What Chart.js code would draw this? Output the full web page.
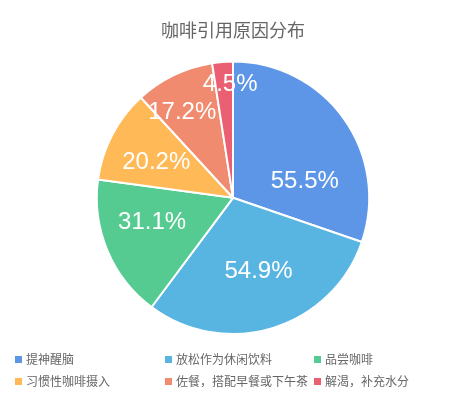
<!DOCTYPE html>
<html>
<head>
<meta charset="utf-8">
<script src="https://cdn.jsdelivr.net/npm/chart.js@4"></script>
<style>
  html, body { margin: 0; padding: 0; background: #fff; }
  #wrap { position: relative; width: 458px; height: 396px; }
  #legend { position: absolute; left: 0; top: 349px; width: 458px; font-family: "Noto Sans CJK SC", sans-serif; font-size: 12px; color: #666; }
  .item { position: absolute; height: 20px; line-height: 20px; white-space: nowrap; }
  .box { position: absolute; left: 0; top: 7px; width: 7px; height: 7px; }
  .txt { position: absolute; left: 11px; top: 0; }
</style>
</head>
<body>
<div id="wrap">
  <canvas id="reasonChart" width="458" height="396"></canvas>
  <div id="legend"></div>
</div>
<script>
const categories = ["提神醒脑", "放松作为休闲饮料", "品尝咖啡", "习惯性咖啡摄入", "佐餐，搭配早餐或下午茶", "解渴，补充水分"];
const percentages = [55.5, 54.9, 31.1, 20.2, 17.2, 4.5];
const sliceColors = ["#5d96e6", "#58b5e2", "#55ca91", "#ffb957", "#f08b70", "#ea5f72"];

// label placement inside each slice: fraction of radius, angle nudge in degrees
const labelRadius = [0.54, 0.57, 0.62, 0.62, 0.73, 0.83];
const labelNudge = [23, -2, 6, -3, -5, 3];

const pieLabels = {
    id: 'pieLabels',
    afterDatasetsDraw(chart) {
        const ctx = chart.ctx;
        const meta = chart.getDatasetMeta(0);
        ctx.save();
        ctx.fillStyle = '#fff';
        ctx.font = '24px "Liberation Sans", Arial, sans-serif';
        ctx.textAlign = 'center';
        ctx.textBaseline = 'middle';
        meta.data.forEach((arc, i) => {
            const p = arc.getProps(['x', 'y', 'startAngle', 'endAngle', 'outerRadius'], true);
            const mid = (p.startAngle + p.endAngle) / 2 + labelNudge[i] * Math.PI / 180;
            const r = p.outerRadius * labelRadius[i];
            ctx.fillText(percentages[i].toFixed(1) + '%', p.x + Math.cos(mid) * r, p.y + Math.sin(mid) * r);
        });
        ctx.restore();
    }
};

const chart = new Chart(document.getElementById('reasonChart').getContext('2d'), {
    type: 'pie',
    data: {
        labels: categories,
        datasets: [{
            data: percentages,
            backgroundColor: sliceColors,
            borderColor: '#fff',
            borderWidth: 2
        }]
    },
    options: {
        responsive: false,
        animation: false,
        layout: { padding: { left: 8, right: 0, top: 0, bottom: 61 } },
        plugins: {
            legend: { display: false },
            tooltip: { enabled: false },
            title: {
                display: true,
                text: '咖啡引用原因分布',
                color: '#666',
                font: { family: '"Noto Sans CJK SC", sans-serif', size: 18, weight: 'normal', lineHeight: 1.2 },
                padding: { top: 19, bottom: 20 }
            }
        }
    },
    plugins: [pieLabels]
});

// grid legend, three columns
const colX = [15, 165, 314];
const legendEl = document.getElementById('legend');
chart.options.plugins.legend.labels.generateLabels(chart).forEach((item, i) => {
    const div = document.createElement('div');
    div.className = 'item';
    div.style.left = colX[i % 3] + 'px';
    div.style.top = (Math.floor(i / 3) * 22) + 'px';
    div.innerHTML = '<span class="box" style="background:' + item.fillStyle + '"></span><span class="txt">' + item.text + '</span>';
    legendEl.appendChild(div);
});
</script>
</body>
</html>
